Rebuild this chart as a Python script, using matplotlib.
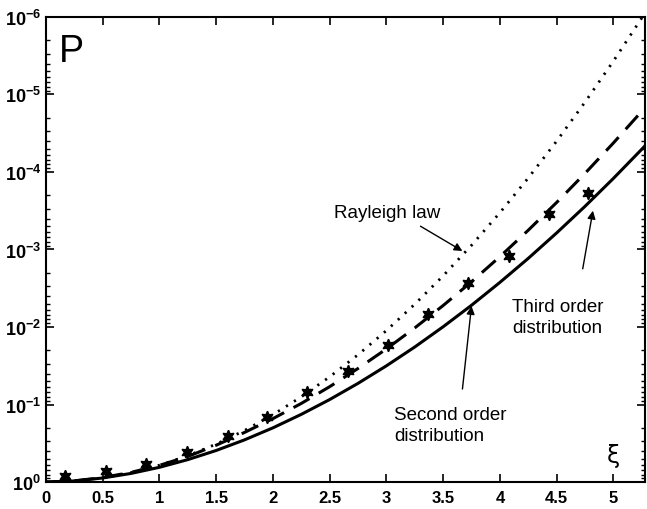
import matplotlib

matplotlib.use("Agg")
import matplotlib.pyplot as plt
import numpy as np
from matplotlib.ticker import FixedLocator, LogLocator, NullFormatter

plt.rcParams.update({
    "font.family": ["Liberation Sans", "DejaVu Sans"],
    "mathtext.fontset": "custom",
    "mathtext.bf": "Liberation Sans:bold",
    "mathtext.rm": "Liberation Sans",
})

# exceedance probability curves (log10 P)
xi = [0, 0.25, 0.5, 0.75, 1.0, 1.25, 1.5, 1.75, 2.0, 2.25, 2.5, 2.75, 3.0,
      3.25, 3.5, 3.75, 4.0, 4.25, 4.5, 4.75, 5.0, 5.25, 5.5]
rayleigh_log = [0, -0.014, -0.054, -0.122, -0.217, -0.339, -0.489, -0.665,
                -0.869, -1.099, -1.357, -1.642, -1.954, -2.294, -2.660, -3.054,
                -3.474, -3.922, -4.397, -4.900, -5.429, -5.985, -6.569]
second_log = [0, -0.014, -0.052, -0.111, -0.190, -0.289, -0.407, -0.544,
              -0.699, -0.873, -1.064, -1.273, -1.499, -1.742, -2.003, -2.280,
              -2.575, -2.885, -3.213, -3.556, -3.916, -4.292, -4.684]
third_log = [0, -0.015, -0.058, -0.125, -0.215, -0.330, -0.475, -0.640,
             -0.818, -1.014, -1.230, -1.465, -1.717, -1.988, -2.277, -2.583,
             -2.907, -3.248, -3.606, -3.981, -4.373, -4.782, -5.207]

# measured points (stars)
star_xi = [0.17, 0.53, 0.88, 1.24, 1.60, 1.95, 2.30, 2.66, 3.01, 3.37, 3.72,
           4.08, 4.43, 4.78]
star_log = [-0.077, -0.142, -0.232, -0.387, -0.594, -0.839, -1.161, -1.432,
            -1.768, -2.168, -2.568, -2.916, -3.458, -3.729]

xticks = [0, 0.5, 1, 1.5, 2, 2.5, 3, 3.5, 4, 4.5, 5]
xticklabels = ["0", "0.5", "1", "1.5", "2", "2.5", "3", "3.5", "4", "4.5", "5"]
yexps = [0, -1, -2, -3, -4, -5, -6]

fig = plt.figure(figsize=(6.47, 5.10), dpi=100)
ax = fig.add_axes([0.0711, 0.0529, 0.926, 0.912])

k = "black"
ax.plot(xi, 10 ** np.array(rayleigh_log), color=k, lw=2.0, ls=(0, (0.8, 2.6)))
ax.plot(xi, 10 ** np.array(second_log), color=k, lw=2.2, ls="-")
ax.plot(xi, 10 ** np.array(third_log), color=k, lw=2.2, ls=(0, (6, 3.5)))
ax.plot(star_xi, 10 ** np.array(star_log), ls="none", marker=(6, 1, 0), ms=9,
        color=k, mec=k, mew=1.0)

ax.set_yscale("log")
ax.set_xlim(0, 5.28)
ax.set_ylim(1, 1e-6)

ax.xaxis.set_major_locator(FixedLocator(xticks))
ax.set_xticklabels(xticklabels, fontsize=12, fontweight="bold",
                   family=["Liberation Sans Narrow", "Liberation Sans"])
ax.yaxis.set_major_locator(FixedLocator([10.0 ** e for e in yexps]))
ax.set_yticklabels([r"$\mathbf{10^{%d}}$" % e for e in yexps], fontsize=13)
ax.yaxis.set_minor_locator(LogLocator(base=10, subs=np.arange(2, 10)))
ax.yaxis.set_minor_formatter(NullFormatter())

ax.tick_params(which="both", direction="in", top=True, right=True)
ax.tick_params(which="major", length=6, width=1.2)
ax.tick_params(which="minor", length=3, width=1.0)
ax.tick_params(axis="x", pad=6)
for s in ax.spines.values():
    s.set_linewidth(1.5)

ax.text(0.022, 0.905, "P", transform=ax.transAxes, fontsize=27)
ax.text(0.947, 0.058, "ξ", transform=ax.transAxes, fontsize=17,
        ha="center", va="center", family="DejaVu Sans")

ann = dict(fontsize=13.5, ha="left", va="center")
arrow = dict(arrowstyle="-|>", color=k, lw=1.0, mutation_scale=12,
             shrinkA=0, shrinkB=0)

ax.annotate("", xy=(3.67, 10 ** -2.98), xytext=(3.30, 10 ** -3.30),
            arrowprops=arrow)
ax.text(2.54, 10 ** -3.48, "Rayleigh law", **ann)

ax.annotate("", xy=(4.82, 10 ** -3.50), xytext=(4.73, 10 ** -2.75),
            arrowprops=arrow)
ax.text(4.11, 10 ** -2.13, "Third order\ndistribution", linespacing=1.3,
        **ann)

ax.annotate("", xy=(3.75, 10 ** -2.27), xytext=(3.67, 10 ** -1.20),
            arrowprops=arrow)
ax.text(3.07, 10 ** -0.74, "Second order\ndistribution", linespacing=1.3,
        **ann)

fig.savefig("out.png", dpi=100)
